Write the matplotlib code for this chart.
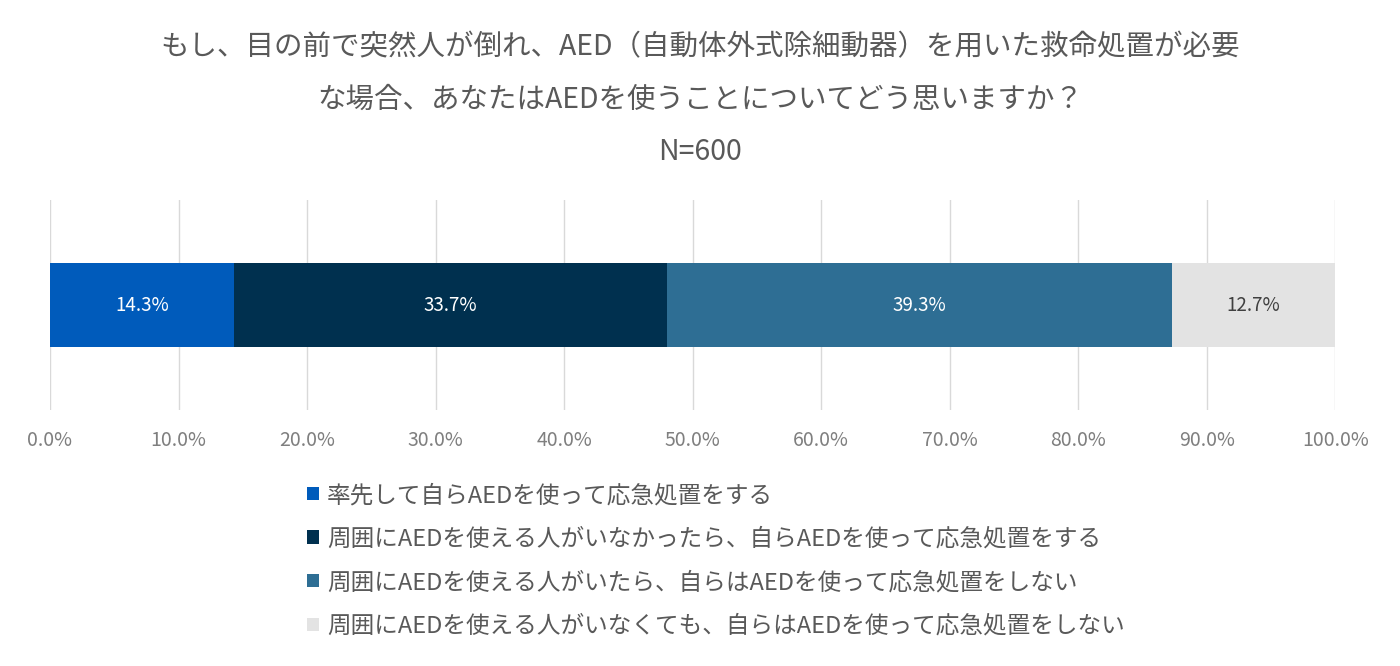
import matplotlib
matplotlib.use("Agg")
import matplotlib.pyplot as plt
from matplotlib.ticker import PercentFormatter

plt.rcParams['font.family'] = ['Noto Sans CJK JP', 'DejaVu Sans']

# data
categories = [
    '率先して自らAEDを使って応急処置をする',
    '周囲にAEDを使える人がいなかったら、自らAEDを使って応急処置をする',
    '周囲にAEDを使える人がいたら、自らはAEDを使って応急処置をしない',
    '周囲にAEDを使える人がいなくても、自らはAEDを使って応急処置をしない',
]
values = [14.3, 33.7, 39.3, 12.7]
colors = ['#005BBB', '#00304F', '#2E6E94', '#E3E3E3']
label_colors = ['white', 'white', 'white', '#404040']
title = ('もし、目の前で突然人が倒れ、AED（自動体外式除細動器）を用いた救命処置が必要\n'
         'な場合、あなたはAEDを使うことについてどう思いますか？\nN=600')

fig = plt.figure(figsize=(14, 6.66), dpi=100)
ax = fig.add_axes([0.0357, 0.384, 0.918, 0.316])

left = 0
for cat, v, c, lc in zip(categories, values, colors, label_colors):
    ax.barh(0, v, left=left, height=0.4, color=c, label=cat)
    ax.text(left + v / 2, 0, f'{v:.1f}%', ha='center', va='center',
            color=lc, fontsize=13.5)
    left += v

ax.set_xlim(0, 100)
ax.set_ylim(-0.5, 0.5)
ax.set_xticks(range(0, 101, 10))
ax.xaxis.set_major_formatter(PercentFormatter(decimals=1))
ax.set_yticks([])
ax.grid(axis='x', color='#D9D9D9', linewidth=1)
ax.set_axisbelow(True)
for s in ax.spines.values():
    s.set_visible(False)
ax.tick_params(axis='x', length=0, labelsize=14, labelcolor='#7F7F7F', pad=14)

fig.text(0.5, 0.952, title, ha='center', va='top', fontsize=20.5,
         color='#595959', linespacing=1.98)

fig.legend(loc='upper left', bbox_to_anchor=(0.211, 0.291), frameon=False,
           fontsize=17, labelcolor='#595959', handlelength=0.5, handleheight=0.5,
           handletextpad=0.35, labelspacing=0.87, borderpad=0)

fig.savefig('out.png', dpi=100, facecolor='white')
